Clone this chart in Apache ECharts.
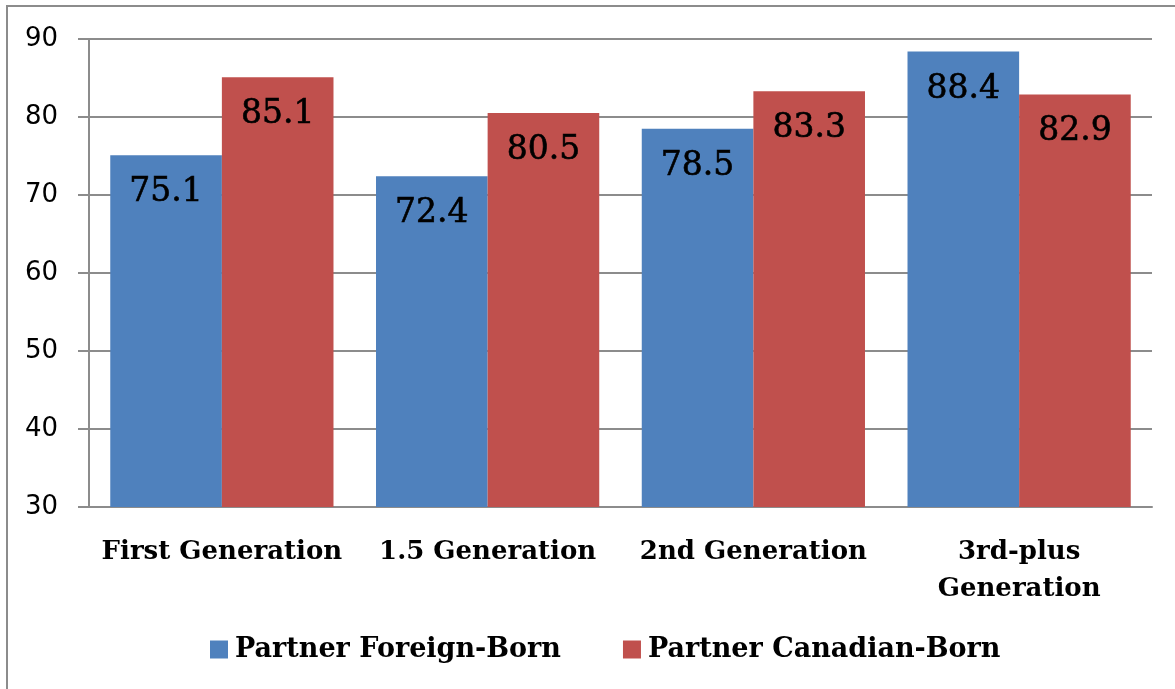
<!DOCTYPE html>
<html>
<head>
<meta charset="utf-8">
<script src="https://cdn.jsdelivr.net/npm/echarts@6/dist/echarts.min.js"></script>
<style>
  html, body { margin: 0; padding: 0; background: #fff; }
  #chart { width: 1175px; height: 689px; }
</style>
</head>
<body>
<div id="chart"></div>
<script>
var categories = ['First Generation', '1.5 Generation', '2nd Generation', '3rd-plus\nGeneration']
var foreignBorn = [75.1, 72.4, 78.5, 88.4]
var canadianBorn = [85.1, 80.5, 83.3, 82.9]
var seriesNames = ['Partner Foreign-Born', 'Partner Canadian-Born']

var chart = echarts.init(document.getElementById('chart'))

var barLabel = {
    show: true,
    position: 'insideTop',
    distance: 21,
    color: '#000',
    fontFamily: 'DejaVu Serif',
    fontSize: 33,
    textBorderColor: '#000',
    textBorderWidth: 0.6,
    formatter: function (p) { return p.value.toFixed(1) }
}

var option = {
    animation: false,
    color: ['#4F81BD', '#C0504D'],
    graphic: [{
        type: 'polyline',
        shape: { points: [[7, 689], [7, 6], [1175, 6]] },
        style: { stroke: '#8c8c8c', lineWidth: 2, fill: null }
    }],
    grid: { left: 89, right: 23, top: 39, bottom: 182 },
    legend: {
        bottom: 21,
        left: 205,
        itemWidth: 18,
        itemHeight: 18,
        itemGap: 62,
        icon: 'rect',
        textStyle: { fontFamily: 'DejaVu Serif', fontWeight: 'bold', fontSize: 27, color: '#000', padding: [0, 0, 0, 2] },
        data: seriesNames
    },
    xAxis: {
        type: 'category',
        data: categories,
        axisLine: { lineStyle: { color: '#8c8c8c', width: 2 } },
        axisTick: { length: 11, lineStyle: { color: '#8c8c8c', width: 2 } },
        axisLabel: {
            interval: 0,
            margin: 27,
            color: '#000',
            fontFamily: 'DejaVu Serif',
            fontWeight: 'bold',
            fontSize: 26,
            lineHeight: 37
        }
    },
    yAxis: {
        type: 'value',
        min: 30,
        max: 90,
        interval: 10,
        axisLine: { show: true, lineStyle: { color: '#8c8c8c', width: 2 } },
        axisTick: { show: true, length: 11, lineStyle: { color: '#8c8c8c', width: 2 } },
        splitLine: { lineStyle: { color: '#8c8c8c', width: 2 } },
        axisLabel: { margin: 31, color: '#000', fontFamily: 'DejaVu Sans', fontSize: 26 }
    },
    series: [
        {
            name: seriesNames[0],
            type: 'bar',
            data: foreignBorn,
            barGap: '0%',
            barCategoryGap: '16%',
            label: barLabel
        },
        {
            name: seriesNames[1],
            type: 'bar',
            data: canadianBorn,
            barGap: '0%',
            barCategoryGap: '16%',
            label: barLabel
        }
    ]
}

chart.setOption(option)
</script>
</body>
</html>
